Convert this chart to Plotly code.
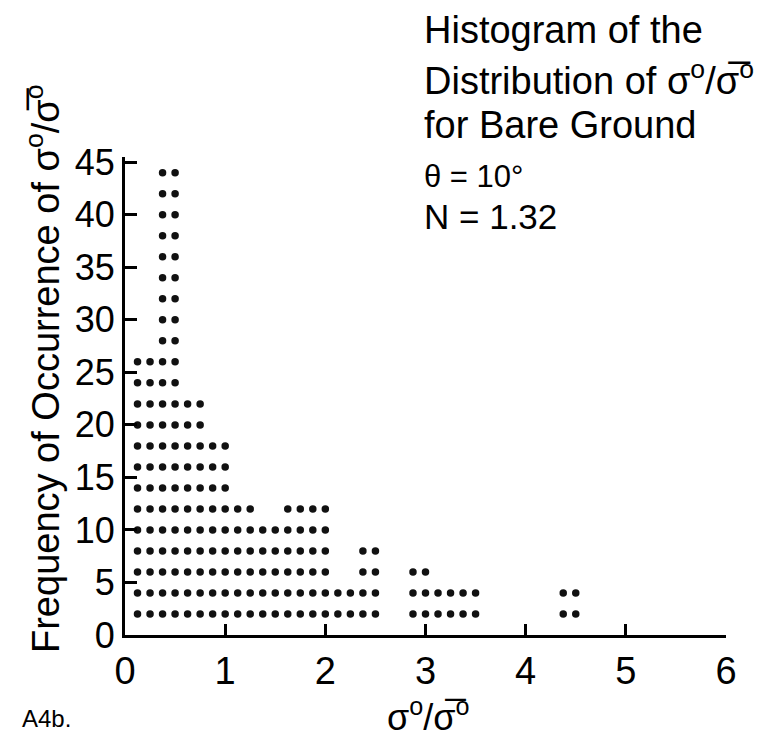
import plotly.graph_objects as go

# Histogram of sigma0 / mean sigma0 for bare ground, theta = 10 deg.
# Bins are 0.25 wide; each printed dot row stands for 2 occurrences.
bin_lo = [0.00, 0.25, 0.50, 0.75, 1.00, 1.25, 1.50, 1.75, 2.00,
          2.25, 2.50, 2.75, 3.00, 3.25, 3.50, 3.75, 4.00, 4.25]
counts = [26, 46, 22, 18, 12, 10, 12, 12, 4,
          8, 0, 6, 4, 4, 0, 0, 0, 4]
BIN_W = 0.25
ROW = 2  # occurrences per dot row

x_ticks = [0, 1, 2, 3, 4, 5, 6]
y_ticks = [0, 5, 10, 15, 20, 25, 30, 35, 40, 45]

W, H = 768, 739
L, R, T, B = 125, 42, 157, 104

FONT = "Liberation Sans, Arial, sans-serif"

# Printer-style dot columns: two dots per bin on every filled row
xs, ys = [], []
for lo, c in zip(bin_lo, counts):
    for level in range(ROW, c + 1, ROW):
        for frac in (0.5, 1.0):
            xs.append(lo + frac * BIN_W)
            ys.append(level)

fig = go.Figure()
fig.add_trace(go.Scatter(
    x=xs, y=ys, mode="markers",
    marker=dict(symbol="circle", size=7.5, color="#111111"),
    cliponaxis=False, hoverinfo="skip", showlegend=False,
))

SIG = "σ<sup>o</sup>/σ̅<sup>o</sup>"


def px(xp, yp):
    """Convert page pixel position to paper coordinates."""
    return (xp - L) / (W - L - R), (H - B - yp) / (H - T - B)


def label(text, xp, yp, size, xanchor="left", angle=0):
    x, y = px(xp, yp)
    fig.add_annotation(text=text, x=x, y=y, xref="paper", yref="paper",
                       xanchor=xanchor, yanchor="middle", showarrow=False,
                       textangle=angle,
                       font=dict(family=FONT, size=size, color="black"))


label("Histogram of the", 422, 30, 38)
label("Distribution of " + SIG, 422, 78, 38)
label("for Bare Ground", 422, 125, 38)
label("θ = 10°", 422, 176, 31)
label("N = 1.32", 422, 216, 35)
label("Frequency of Occurrence of " + SIG, 43, 369, 38, xanchor="center", angle=-90)
label(SIG, 428, 715, 36, xanchor="center")
label("A4b.", 20, 718, 24)

axis_common = dict(
    showgrid=False, zeroline=False, showline=True, linewidth=3,
    linecolor="black", ticks="inside", tickwidth=3, tickcolor="black",
    automargin=False,
)
fig.update_xaxes(range=[0, 6], tickvals=x_ticks, ticklen=11,
                 tickfont=dict(family=FONT, size=38, color="black"),
                 **axis_common)
fig.update_yaxes(range=[0, 45.5], tickvals=y_ticks, ticklen=12,
                 tickfont=dict(family=FONT, size=36, color="black"),
                 **axis_common)

fig.update_layout(
    width=W, height=H,
    margin=dict(l=L, r=R, t=T, b=B, pad=0),
    paper_bgcolor="white", plot_bgcolor="white",
    showlegend=False,
)

fig.write_html("out.html")
